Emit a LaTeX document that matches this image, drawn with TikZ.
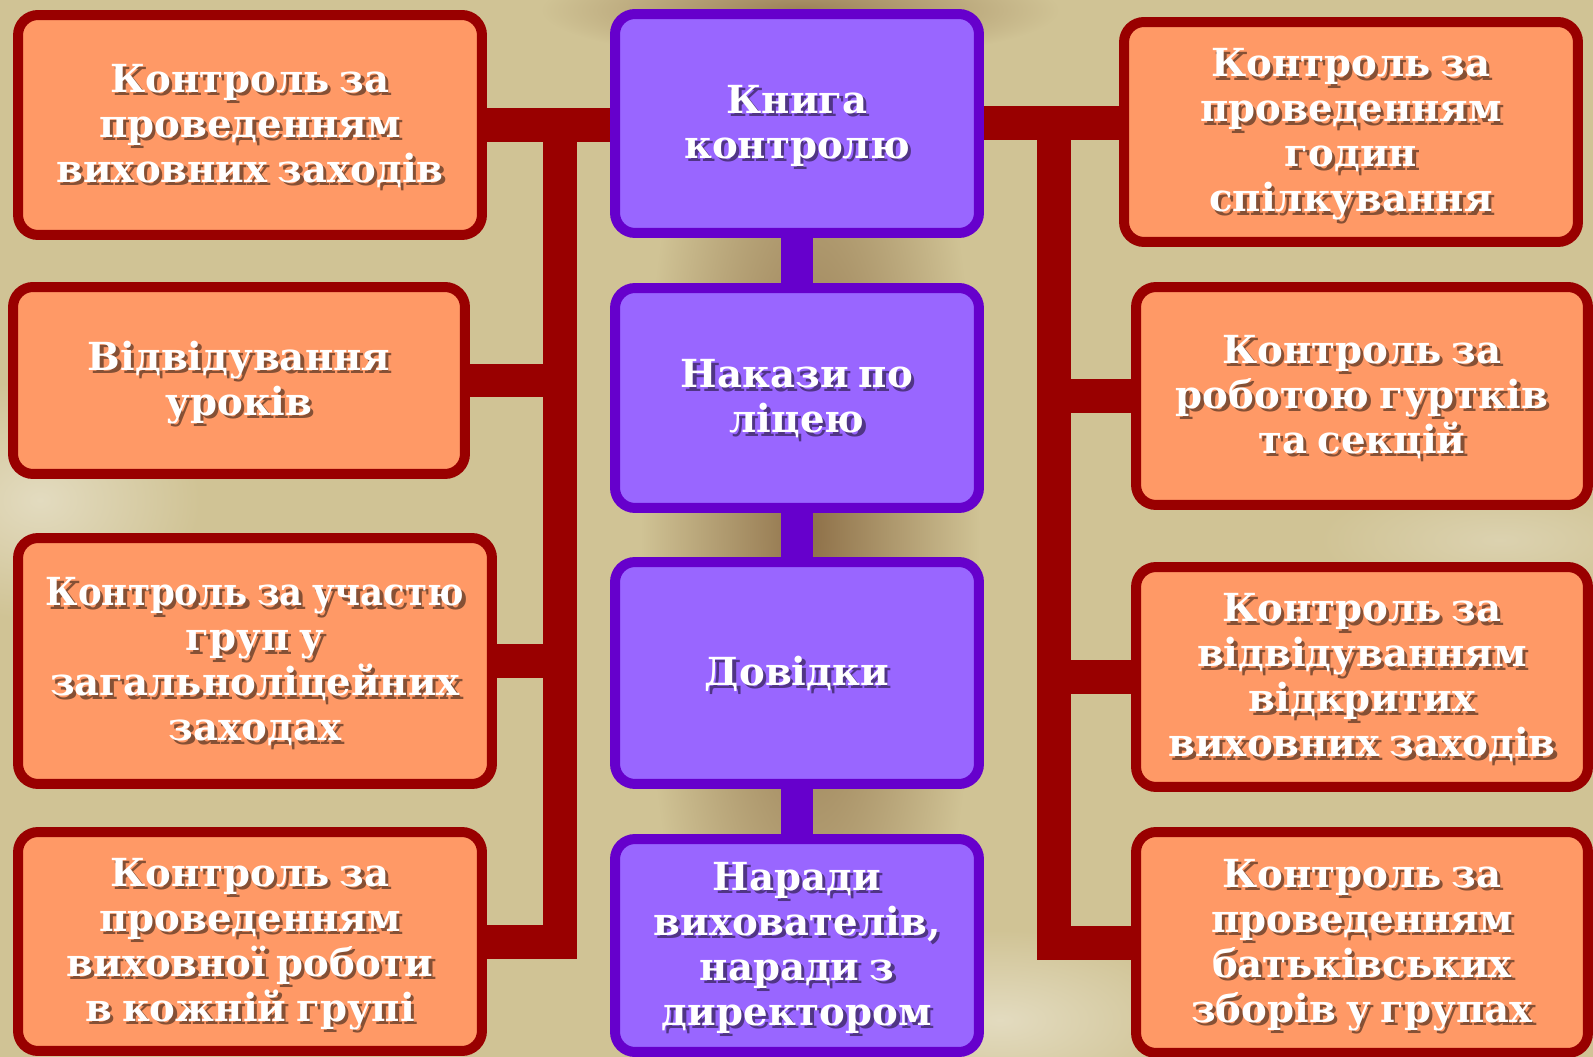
\documentclass[tikz,border=0pt]{standalone}
\usepackage{fontspec}
\setmainfont{DejaVu Serif}[WordSpace=0.75]
\usepackage{tikz}

\definecolor{ofill}{HTML}{FF9966}
\definecolor{oline}{HTML}{990000}
\definecolor{pfill}{HTML}{9966FF}
\definecolor{pline}{HTML}{6600CC}
\definecolor{paper}{HTML}{D0C395}
\definecolor{stain}{HTML}{8E7048}

\pgfdeclarelayer{paperlayer}
\pgfdeclarelayer{barlayer}
\pgfsetlayers{paperlayer,barlayer,main}

% white text with a soft drop shadow
\newcommand{\shtext}[1]{%
  \raisebox{0pt}[\dimexpr\height+5.6pt\relax][\depth]{%
  \rlap{\kern1.9pt\raisebox{-1.9pt}{\color{shcol}\begin{tabular}{@{}c@{}}#1\end{tabular}}}%
  \begin{tabular}{@{}c@{}}#1\end{tabular}}}

\tikzset{
  card/.style={line width=0.2cm, rounded corners=0.4cm, text=white, inner sep=0pt,
    font=\bfseries\fontsize{22}{25.6}\selectfont},
  obox/.style={card, draw=oline, fill=ofill,
    execute at begin node={\colorlet{shcol}{ofill!52!black}}},
  pbox/.style={card, draw=pline, fill=pfill,
    minimum width=7.28cm,
    execute at begin node={\colorlet{shcol}{pfill!52!black}}},
  redbar/.style={draw=oline, line width=0.68cm, line cap=rect},
  purplebar/.style={draw=pline, line width=0.64cm},
}

\begin{document}
\begin{tikzpicture}[x=0.02cm, y=-0.02cm]
\useasboundingbox (0,0) rectangle (1593,1057);

% centre column
\node[pbox, minimum height=4.38cm] (c1) at (797,123.5) {\shtext{Книга\\контролю}};
\node[pbox, minimum height=4.40cm] (c2) at (797,398) {\shtext{Накази по\\ліцею}};
\node[pbox, minimum height=4.44cm] (c3) at (797,673) {\shtext{Довідки}};
\node[pbox, minimum height=4.26cm] (c4) at (797,945.5) {\shtext{Наради\\вихователів,\\наради з\\директором}};

% left column
\node[obox, minimum width=9.28cm, minimum height=4.40cm] (l1) at (250,125) {\shtext{Контроль за\\проведенням\\виховних заходів}};
\node[obox, minimum width=9.04cm, minimum height=3.74cm] (l2) at (239,380.5) {\shtext{Відвідування\\уроків}};
\node[obox, minimum width=9.48cm, minimum height=4.92cm] (l3) at (255,661) {\shtext{\scalebox{0.92}[1]{Контроль за участю}\\груп у\\загальноліцейних\\заходах}};
\node[obox, minimum width=9.28cm, minimum height=4.38cm] (l4) at (250,941.5) {\shtext{Контроль за\\проведенням\\виховної роботи\\в кожній групі}};

% right column
\node[obox, minimum width=9.08cm, minimum height=4.40cm] (r1) at (1351,132) {\shtext{Контроль за\\проведенням\\годин\\спілкування}};
\node[obox, minimum width=9.04cm, minimum height=4.36cm] (r2) at (1362,396) {\shtext{Контроль за\\роботою гуртків\\та секцій}};
\node[obox, minimum width=9.04cm, minimum height=4.40cm] (r3) at (1362,677) {\shtext{Контроль за\\відвідуванням\\відкритих\\виховних заходів}};
\node[obox, minimum width=9.04cm, minimum height=4.42cm] (r4) at (1362,942.5) {\shtext{Контроль за\\проведенням\\батьківських\\зборів у групах}};

\coordinate (lt) at (560,0);
\coordinate (rt) at (1054,0);

\begin{pgfonlayer}{barlayer}
\draw[purplebar] (c1) -- (c2);
\draw[purplebar] (c2) -- (c3);
\draw[purplebar] (c3) -- (c4);

\draw[redbar] (l1.east) -- (l1.east -| c1.west);
\draw[redbar] (l1.east -| lt) -- (l4.east -| lt);
\draw[redbar] (l2.east) -- (l2.east -| lt);
\draw[redbar] (l3.east) -- (l3.east -| lt);
\draw[redbar] (l4.east) -- (l4.east -| lt);

\draw[redbar] (c1.east) -- (c1.east -| r1.west);
\draw[redbar] (c1.east -| rt) -- (r4.west -| rt);
\draw[redbar] (r2.west) -- (r2.west -| rt);
\draw[redbar] (r3.west) -- (r3.west -| rt);
\draw[redbar] (r4.west) -- (r4.west -| rt);
\end{pgfonlayer}

\begin{pgfonlayer}{paperlayer}
\fill[paper] (0,0) rectangle (1593,1057);
\shade[inner color=stain, outer color=paper] (810,530) ellipse (170 and 620);
\shade[inner color=stain!80!paper, outer color=paper] (800,10) ellipse (260 and 50);
\shade[inner color=paper!60!white, outer color=paper] (40,500) ellipse (160 and 120);
\shade[inner color=paper!60!white, outer color=paper] (1000,1020) ellipse (200 and 90);
\shade[inner color=paper!75!white, outer color=paper] (1500,540) ellipse (180 and 60);
\end{pgfonlayer}
\end{tikzpicture}
\end{document}
